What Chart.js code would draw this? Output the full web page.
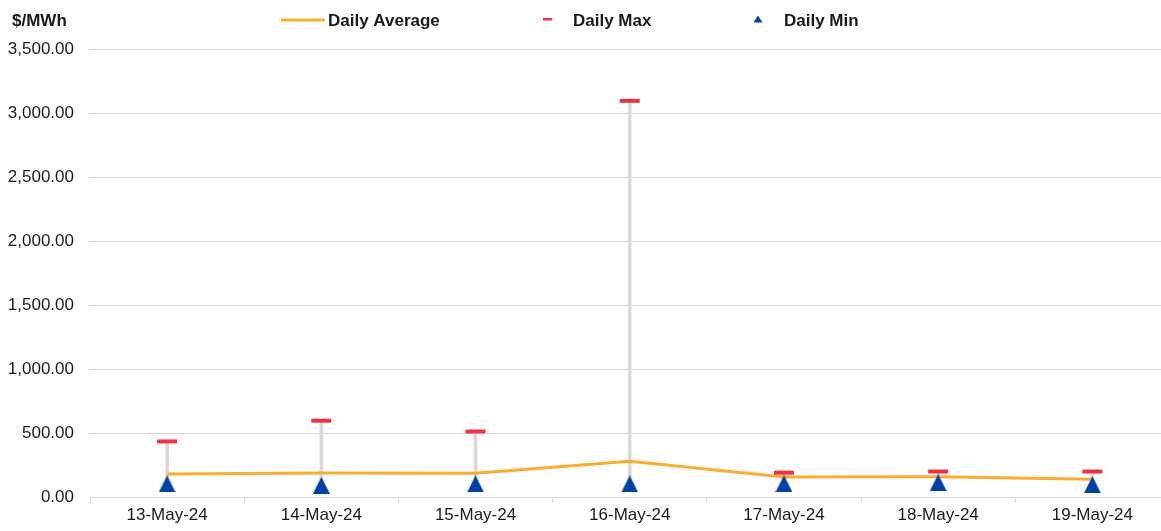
<!DOCTYPE html>
<html lang="en">
<head>
    <meta charset="UTF-8">
    <title>Daily Price Range</title>
    <script src="https://cdn.jsdelivr.net/npm/chart.js@4.4.1/dist/chart.umd.min.js"></script>
    <style>
        body {
            margin: 0;
            padding: 0;
            background-color: #ffffff;
            overflow: hidden;
        }
        .chart-wrap {
            position: relative;
            width: 1161px;
            height: 531px;
        }
    </style>
</head>
<body>
    <div class="chart-wrap">
        <canvas id="priceChart"></canvas>
    </div>

    <script>
        // Data
        const dates = ['13-May-24', '14-May-24', '15-May-24', '16-May-24', '17-May-24', '18-May-24', '19-May-24'];
        const dailyAvg = [180, 187, 185, 279, 156, 159, 138];
        const dailyMax = [434, 596, 512, 3095, 190, 199, 199];
        const dailyMin = [102, 91, 102, 102, 104, 112, 96];
        const yTicks = [0, 500, 1000, 1500, 2000, 2500, 3000, 3500];

        const FONT = "'Liberation Sans', Arial, sans-serif";
        const ORANGE = '#FAAD2E';
        const RED = '#EE3340';
        const BLUE = '#0042A3';
        const GRID = '#d9d9d9';
        const TEXT = '#1a1a1a';

        // Excel-style triangle marker, centred on its bounding box
        function triangleMarker(size, color) {
            const c = document.createElement('canvas');
            c.width = size;
            c.height = size;
            const g = c.getContext('2d');
            g.fillStyle = color;
            g.beginPath();
            g.moveTo(size / 2, 0);
            g.lineTo(size, size);
            g.lineTo(0, size);
            g.closePath();
            g.fill();
            return c;
        }

        // Top legend + unit label, drawn by hand to match the original layout
        const topLegend = {
            id: 'topLegend',
            afterDraw(chart) {
                const ctx = chart.ctx;
                ctx.save();
                ctx.font = 'bold 17px ' + FONT;
                ctx.fillStyle = TEXT;
                ctx.textBaseline = 'alphabetic';
                ctx.textAlign = 'left';
                ctx.fillText('$/MWh', 12, 25.5);

                // Daily Average
                ctx.strokeStyle = ORANGE;
                ctx.lineWidth = 3;
                ctx.beginPath();
                ctx.moveTo(281, 20);
                ctx.lineTo(325, 20);
                ctx.stroke();
                ctx.fillText('Daily Average', 328, 25.5);

                // Daily Max
                ctx.fillStyle = RED;
                ctx.fillRect(543, 18, 9, 2.5);
                ctx.fillStyle = TEXT;
                ctx.fillText('Daily Max', 573, 25.5);

                // Daily Min
                ctx.fillStyle = BLUE;
                ctx.beginPath();
                ctx.moveTo(758, 15.5);
                ctx.lineTo(762.5, 22.5);
                ctx.lineTo(753.5, 22.5);
                ctx.closePath();
                ctx.fill();
                ctx.fillStyle = TEXT;
                ctx.fillText('Daily Min', 784, 25.5);
                ctx.restore();
            }
        };

        const ctx = document.getElementById('priceChart').getContext('2d');
        new Chart(ctx, {
            type: 'bar',
            data: {
                datasets: [
                    {
                        label: 'Daily Min',
                        type: 'line',
                        data: dailyMin.map((v, i) => ({ x: i, y: v })),
                        showLine: false,
                        pointStyle: triangleMarker(17, BLUE),
                        pointRadius: 9,
                        order: 1
                    },
                    {
                        label: 'Daily Max',
                        type: 'line',
                        data: dailyMax.map((v, i) => ({ x: i, y: v })),
                        showLine: false,
                        pointStyle: 'line',
                        pointRadius: 10,
                        pointBorderColor: RED,
                        pointBorderWidth: 4,
                        order: 2
                    },
                    {
                        label: 'Daily Average',
                        type: 'line',
                        data: dailyAvg.map((v, i) => ({ x: i, y: v })),
                        borderColor: ORANGE,
                        borderWidth: 3,
                        pointRadius: 0,
                        tension: 0,
                        order: 3
                    },
                    {
                        label: 'Range',
                        type: 'bar',
                        data: dailyMin.map((v, i) => ({ x: i, y: [v, dailyMax[i]] })),
                        backgroundColor: GRID,
                        borderWidth: 0,
                        barThickness: 3,
                        order: 4
                    }
                ]
            },
            options: {
                responsive: true,
                maintainAspectRatio: false,
                animation: false,
                layout: {
                    autoPadding: false,
                    padding: { top: 49, right: 0, bottom: 0, left: 0 }
                },
                plugins: {
                    legend: { display: false },
                    tooltip: { enabled: false }
                },
                scales: {
                    x: {
                        type: 'linear',
                        offset: false,
                        min: -0.5,
                        max: 6.445,
                        afterBuildTicks(scale) {
                            const t = [];
                            for (let i = 0; i < dates.length; i++) {
                                t.push({ value: i - 0.5 });
                                t.push({ value: i });
                            }
                            scale.ticks = t;
                        },
                        afterFit(scale) {
                            scale.height = 34;
                        },
                        border: { display: true, color: GRID, width: 1 },
                        grid: {
                            offset: false,
                            drawOnChartArea: false,
                            drawTicks: true,
                            tickLength: 6,
                            color: c => (c.tick && c.tick.value % 1 !== 0) ? GRID : 'rgba(0,0,0,0)'
                        },
                        ticks: {
                            autoSkip: false,
                            maxRotation: 0,
                            minRotation: 0,
                            padding: 2,
                            color: TEXT,
                            font: { family: FONT, size: 17 },
                            callback: v => Number.isInteger(v) ? dates[v] : ''
                        }
                    },
                    y: {
                        min: 0,
                        max: 3500,
                        afterBuildTicks(scale) {
                            scale.ticks = yTicks.map(v => ({ value: v }));
                        },
                        afterFit(scale) {
                            scale.width = 90;
                        },
                        border: { display: false },
                        grid: {
                            color: GRID,
                            lineWidth: 1,
                            drawTicks: false,
                            tickLength: 0
                        },
                        ticks: {
                            padding: 16,
                            color: TEXT,
                            font: { family: FONT, size: 17 },
                            callback: v => v.toLocaleString('en-US', { minimumFractionDigits: 2, maximumFractionDigits: 2 })
                        }
                    }
                }
            },
            plugins: [topLegend]
        });
    </script>
</body>
</html>
